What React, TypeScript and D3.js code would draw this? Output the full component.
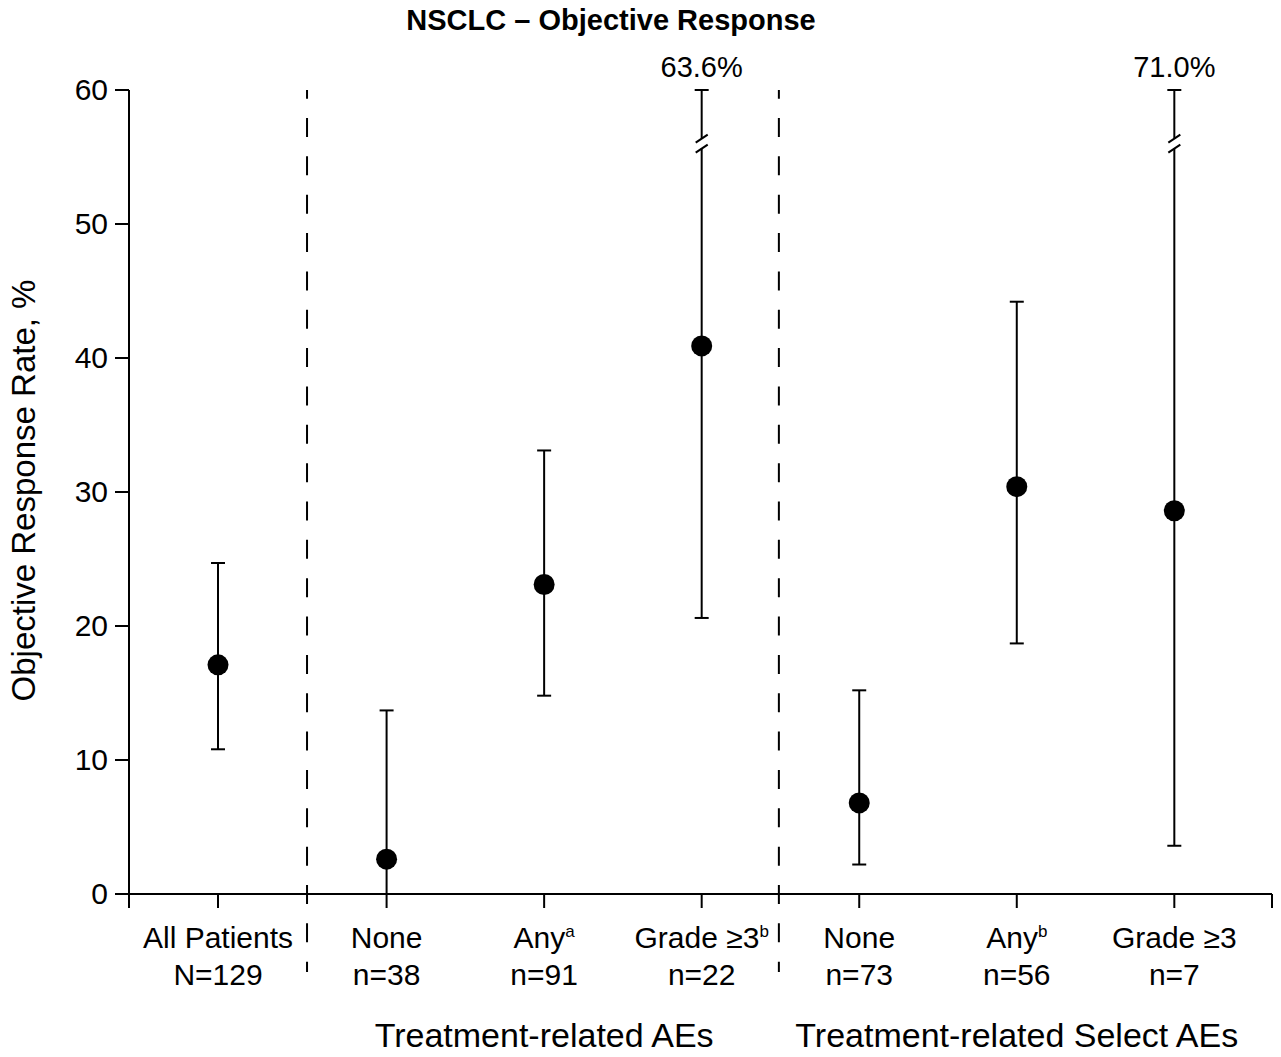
import React from "react";
import * as d3 from "d3";

const categories = ["All Patients", "None", "Any", "Grade ≥3", "None", "Any", "Grade ≥3"];
const superscripts = ["", "", "a", "b", "", "b", ""];
const nLabels = ["N=129", "n=38", "n=91", "n=22", "n=73", "n=56", "n=7"];
const slotPositions = [0, 1.07, 2.07, 3.07, 4.07, 5.07, 6.07];
const orr = [17.1, 2.6, 23.1, 40.9, 6.8, 30.4, 28.6];
const ciLow = [10.8, 0, 14.8, 20.6, 2.2, 18.7, 3.6];
const ciHigh = [24.7, 13.7, 33.1, 63.6, 15.2, 44.2, 71.0];
const yTicks = [0, 10, 20, 30, 40, 50, 60];
const dividers = [0.565, 3.56];
const groupLabels = ["Treatment-related AEs", "Treatment-related Select AEs"];
const groupCenters = [2.07, 5.07];
const yMax = 60;
const breakValue = 56;

const W = 1281;
const H = 1057;
const FONT = "'Liberation Sans', Arial, Helvetica, sans-serif";

export default function App() {
  const y = d3.scaleLinear().domain([0, yMax]).range([894, 90]);
  const x = d3.scaleLinear().domain([-0.565, 6.69]).range([129, 1272]);
  const x0 = x.range()[0];
  const x1 = x.range()[1];
  const yb = y(0);
  const yt = y(yMax);
  const tick = 14;
  const capHalf = 7;
  const sw = 2;

  return (
    <svg
      width={W}
      height={H}
      style={{ position: "absolute", left: 0, top: 0, background: "#fff" }}
      fontFamily={FONT}
    >
      <rect x={0} y={0} width={W} height={H} fill="#fff" />
      {/* title */}
      <text x={611} y={30} textAnchor="middle" fontSize={29} fontWeight="bold" fill="#000">
        NSCLC – Objective Response
      </text>

      {/* y axis */}
      <line x1={x0} x2={x0} y1={yt} y2={yb + tick} stroke="#000" strokeWidth={sw} />
      {yTicks.map((t) => (
        <g key={t}>
          <line x1={x0 - tick} x2={x0} y1={y(t)} y2={y(t)} stroke="#000" strokeWidth={sw} />
          <text x={x0 - 21} y={y(t) + 10} textAnchor="end" fontSize={30} fill="#000">
            {t}
          </text>
        </g>
      ))}
      <text
        transform={`translate(35, ${(278 + 703) / 2}) rotate(-90)`}
        textAnchor="middle"
        fontSize={33}
        fill="#000"
      >
        Objective Response Rate, %
      </text>

      {/* x axis */}
      <line x1={x0 - tick} x2={x1} y1={yb} y2={yb} stroke="#000" strokeWidth={sw} />
      <line x1={x1} x2={x1} y1={yb} y2={yb + tick} stroke="#000" strokeWidth={sw} />
      {slotPositions.map((p, i) => (
        <line key={i} x1={x(p)} x2={x(p)} y1={yb} y2={yb + tick} stroke="#000" strokeWidth={sw} />
      ))}

      {/* dividers */}
      {dividers.map((d, i) => (
        <line
          key={i}
          x1={x(d)}
          x2={x(d)}
          y1={yt}
          y2={972}
          stroke="#000"
          strokeWidth={2}
          strokeDasharray="19 19.35"
          strokeDashoffset={10.35}
        />
      ))}

      {/* category labels */}
      {categories.map((c, i) => (
        <g key={i}>
          <text x={x(slotPositions[i])} y={948} textAnchor="middle" fontSize={30} fill="#000">
            {c}
            {superscripts[i] ? (
              <tspan fontSize={17} dy={-11}>
                {superscripts[i]}
              </tspan>
            ) : null}
          </text>
          <text x={x(slotPositions[i])} y={985} textAnchor="middle" fontSize={30} fill="#000">
            {nLabels[i]}
          </text>
        </g>
      ))}
      {groupLabels.map((g, i) => (
        <text key={i} x={x(groupCenters[i])} y={1047} textAnchor="middle" fontSize={34} fill="#000">
          {g}
        </text>
      ))}

      {/* error bars and points */}
      {orr.map((v, i) => {
        const cx = x(slotPositions[i]);
        const lo = y(ciLow[i]);
        const broken = ciHigh[i] > yMax;
        const hi = broken ? y(yMax) : y(ciHigh[i]);
        const bc = y(breakValue);
        return (
          <g key={i}>
            {broken ? (
              <>
                <line x1={cx} x2={cx} y1={hi} y2={bc - 5} stroke="#000" strokeWidth={sw} />
                <line x1={cx} x2={cx} y1={bc + 5} y2={lo} stroke="#000" strokeWidth={sw} />
                <line x1={cx - 6} x2={cx + 6} y1={bc - 1} y2={bc - 9} stroke="#000" strokeWidth={sw} />
                <line x1={cx - 6} x2={cx + 6} y1={bc + 9} y2={bc + 1} stroke="#000" strokeWidth={sw} />
                <text x={cx} y={77} textAnchor="middle" fontSize={29} fill="#000">
                  {ciHigh[i].toFixed(1)}%
                </text>
              </>
            ) : (
              <line x1={cx} x2={cx} y1={hi} y2={lo} stroke="#000" strokeWidth={sw} />
            )}
            <line x1={cx - capHalf} x2={cx + capHalf} y1={hi} y2={hi} stroke="#000" strokeWidth={sw} />
            {ciLow[i] > 0 ? (
              <line x1={cx - capHalf} x2={cx + capHalf} y1={lo} y2={lo} stroke="#000" strokeWidth={sw} />
            ) : null}
            <circle cx={cx} cy={y(v)} r={10.5} fill="#000" />
          </g>
        );
      })}
    </svg>
  );
}
